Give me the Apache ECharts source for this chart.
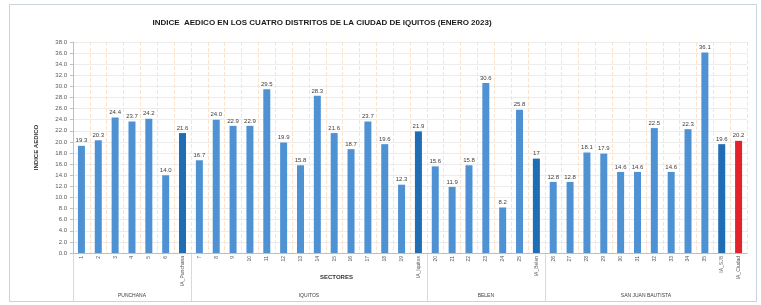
<!DOCTYPE html>
<html>
<head>
<meta charset="utf-8">
<script src="https://cdn.jsdelivr.net/npm/echarts@6/dist/echarts.min.js"></script>
<style>
html, body { margin: 0; padding: 0; background: #ffffff; }
#chart { width: 761px; height: 305px; }
</style>
</head>
<body>
<div id="chart"></div>
<script>
// sectores (eje x), IA_ = indice aedico del distrito
var sectores = ["1", "2", "3", "4", "5", "6", "IA_Punchana",
  "7", "8", "9", "10", "11", "12", "13", "14", "15", "16", "17", "18", "19", "IA_Iquitos",
  "20", "21", "22", "23", "24", "25", "IA_Belen",
  "26", "27", "28", "29", "30", "31", "32", "33", "34", "35", "IA_SJB", "IA_Ciudad"];
var indice = [19.3, 20.3, 24.4, 23.7, 24.2, 14.0, 21.6,
  16.7, 24.0, 22.9, 22.9, 29.5, 19.9, 15.8, 28.3, 21.6, 18.7, 23.7, 19.6, 12.3, 21.9,
  15.6, 11.9, 15.8, 30.6, 8.2, 25.8, 17,
  12.8, 12.8, 18.1, 17.9, 14.6, 14.6, 22.5, 14.6, 22.3, 36.1, 19.6, 20.2];
var distritos = ["PUNCHANA", "IQUITOS", "BELEN", "SAN JUAN BAUTISTA"];
var distritoDesde = [0, 7, 21, 28];
var distritoHasta = [6, 20, 27, 39];
var yTicks = [0, 38, 2];

var myChart = echarts.init(document.getElementById("chart"));

function barColor(name) {
  if (name == "IA_Ciudad") return "#e3232b";
  if (name.indexOf("IA_") == 0) return "#1f6db5";
  return "#4f92d3";
}

myChart.setOption({
  animation: false,
  title: {
    text: "INDICE  AEDICO EN LOS CUATRO DISTRITOS DE LA CIUDAD DE IQUITOS (ENERO 2023)",
    left: 317,
    textAlign: "center",
    top: 14,
    textStyle: { fontSize: 8, fontWeight: "bold", color: "#1a1a1a", fontFamily: "Liberation Sans" }
  },
  grid: { left: 73, right: 14, top: 42, bottom: 52 },
  xAxis: {
    type: "category",
    data: sectores,
    axisLine: { lineStyle: { color: "#bfbfbf" } },
    axisTick: { show: false },
    splitLine: { show: true, lineStyle: { color: "#fbe3cc", type: "dashed", width: 1 } },
    axisLabel: {
      interval: 0, rotate: 90, fontSize: 5, color: "#595959", margin: 3,
      fontFamily: "Liberation Sans"
    }
  },
  yAxis: {
    type: "value",
    min: yTicks[0],
    max: yTicks[1],
    interval: yTicks[2],
    name: "INDICE AEDICO",
    nameLocation: "middle",
    nameGap: 34,
    nameTextStyle: { fontSize: 6, fontWeight: "bold", color: "#333", fontFamily: "Liberation Sans" },
    axisLine: { show: true, lineStyle: { color: "#bfbfbf" } },
    axisTick: { show: true, length: 3, lineStyle: { color: "#bfbfbf" } },
    splitLine: { lineStyle: { color: "#ececec" } },
    axisLabel: {
      fontSize: 6, color: "#595959", margin: 6, fontFamily: "Liberation Sans",
      formatter: function (v) { return v.toFixed(1); }
    }
  },
  series: [
    {
      type: "bar",
      barWidth: 7,
      data: indice.map(function (v, i) {
        return { value: v, itemStyle: { color: barColor(sectores[i]) } };
      }),
      label: {
        show: true, position: "top", distance: 2, fontSize: 6, color: "#404040",
        fontFamily: "Liberation Sans",
        formatter: function (p) {
          // el IA de Belen aparece sin decimal en el original
          return p.name == "IA_Belen" ? String(p.value) : p.value.toFixed(1);
        }
      }
    }
  ]
});

// nombres de distritos y separadores bajo el eje
var px = function (i) { return myChart.convertToPixel({ xAxisIndex: 0 }, sectores[i]); };
var paso = px(1) - px(0);
var graficos = [
  {
    type: "rect", silent: true,
    shape: { x: 9.5, y: 4.5, width: 747, height: 297 },
    style: { fill: "none", stroke: "#c9d3de", lineWidth: 1 }
  },
  {
    type: "text", left: 320, top: 274,
    style: { text: "SECTORES", fontSize: 6, fontWeight: "bold", fill: "#333", fontFamily: "Liberation Sans" }
  }
];
distritos.forEach(function (d, k) {
  var x0 = px(distritoDesde[k]) - paso / 2;
  var x1 = px(distritoHasta[k]) + paso / 2;
  graficos.push({
    type: "text", x: (x0 + x1) / 2, y: 293,
    style: { text: d, fontSize: 5, fill: "#404040", align: "center", fontFamily: "Liberation Sans" }
  });
  graficos.push({
    type: "line", silent: true,
    shape: { x1: Math.round(x0) + 0.5, y1: 253, x2: Math.round(x0) + 0.5, y2: 301 },
    style: { stroke: "#d9d9d9", lineWidth: 1 }
  });
});
myChart.setOption({ graphic: graficos });
</script>
</body>
</html>
